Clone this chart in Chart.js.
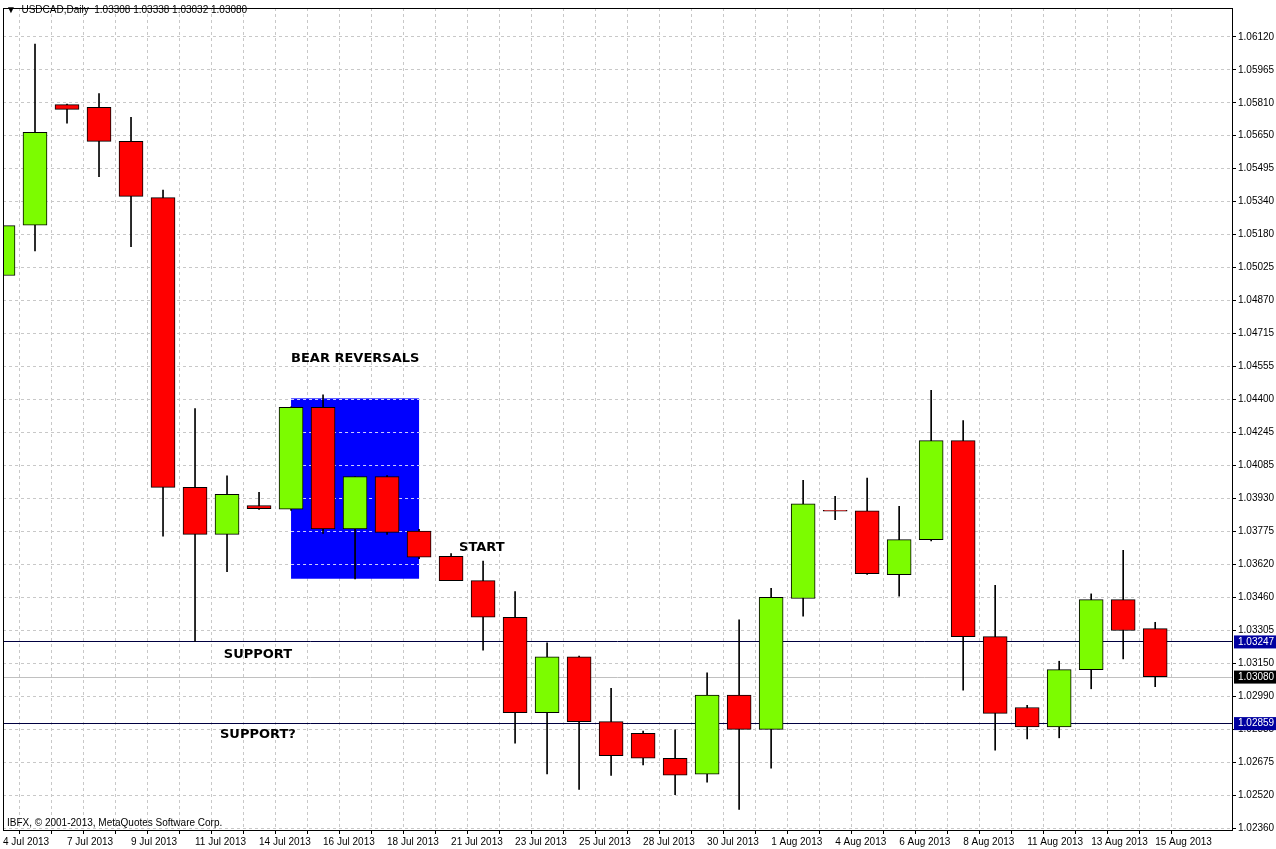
<!DOCTYPE html>
<html><head><meta charset="utf-8">
<script src="https://cdn.jsdelivr.net/npm/chart.js@4.4.0/dist/chart.umd.min.js"></script>
<style>html,body{margin:0;padding:0;background:#fff}#wrap{width:1276px;height:849px}</style>
</head><body><div id="wrap"><canvas id="c"></canvas></div>
<script>
const dates = ["4 Jul 2013","5 Jul","7 Jul 2013","8 Jul","9 Jul 2013","10 Jul","11 Jul 2013","12 Jul","14 Jul 2013","15 Jul","16 Jul 2013","17 Jul","18 Jul 2013","19 Jul","21 Jul 2013","22 Jul","23 Jul 2013","24 Jul","25 Jul 2013","26 Jul","28 Jul 2013","29 Jul","30 Jul 2013","31 Jul","1 Aug 2013","2 Aug","4 Aug 2013","5 Aug","6 Aug 2013","7 Aug","8 Aug 2013","9 Aug","11 Aug 2013","12 Aug","13 Aug 2013","14 Aug","15 Aug 2013"];
const opens  = [1.04986,1.05225,1.05798,1.05785,1.05623,1.05356,1.03979,1.03756,1.03893,1.03876,1.04359,1.03782,1.04030,1.03771,1.03652,1.03536,1.03362,1.02909,1.03174,1.02866,1.02810,1.02692,1.02616,1.02992,1.02829,1.03451,1.03870,1.03868,1.03564,1.03731,1.04201,1.03270,1.02933,1.02841,1.03113,1.03446,1.03308];
const highs  = [1.05565,1.06085,1.05800,1.05850,1.05738,1.05392,1.04353,1.04034,1.03955,1.04362,1.04419,1.04030,1.04035,1.03780,1.03665,1.03629,1.03484,1.03240,1.03177,1.03024,1.02821,1.02827,1.03098,1.03350,1.03499,1.04012,1.03936,1.04023,1.03889,1.04440,1.04297,1.03514,1.02944,1.03153,1.03473,1.03680,1.03338];
const lows   = [1.04710,1.05103,1.05710,1.05456,1.05123,1.03747,1.03247,1.03579,1.03874,1.03870,1.03760,1.03544,1.03755,1.03640,1.03536,1.03205,1.02764,1.02618,1.02544,1.02610,1.02660,1.02519,1.02578,1.02449,1.02645,1.03367,1.03826,1.03565,1.03462,1.03725,1.03015,1.02730,1.02784,1.02789,1.03022,1.03164,1.03032];
const closes = [1.05223,1.05666,1.05775,1.05623,1.05362,1.03979,1.03756,1.03946,1.03878,1.04359,1.03782,1.04030,1.03765,1.03647,1.03536,1.03362,1.02909,1.03174,1.02866,1.02704,1.02692,1.02611,1.02992,1.02829,1.03457,1.03901,1.03866,1.03569,1.03731,1.04201,1.03270,1.02905,1.02841,1.03113,1.03446,1.03299,1.03080];
const yTickLabels = ["1.02360","1.02520","1.02675","1.02835","1.02990","1.03150","1.03305","1.03460","1.03620","1.03775","1.03930","1.04085","1.04245","1.04400","1.04555","1.04715","1.04870","1.05025","1.05180","1.05340","1.05495","1.05650","1.05810","1.05965","1.06120"];
const supportLevels = [1.03247,1.02859];
const bidPrice = 1.03080;
const boxRange = {x0:9, x1:13, y0:1.03545, y1:1.04402};
const notes = [
  {text:"BEAR REVERSALS", x:9, y:1.04590},
  {text:"START", x:14.25, y:1.03691},
  {text:"SUPPORT", x:6.9, y:1.03184},
  {text:"SUPPORT?", x:6.78, y:1.02805}
];
const yMin = 1.02351, yMax = 1.06257, tMin = 1.0236, tMax = 1.0612;
const FONT = '"Liberation Sans", Arial, sans-serif';

const bodies = opens.map((o,i)=>({x:i, y:[Math.min(o,closes[i]), Math.max(o,closes[i])]}));
const wicks = highs.map((h,i)=>({x:i, y:[lows[i], h]}));
const colors = opens.map((o,i)=> closes[i] >= o ? '#7cfc00' : '#ff0000');

const deco = {
  id:'deco',
  beforeDatasetsDraw(chart){
    const {ctx, scales:{x,y}, chartArea:a} = chart;
    ctx.save();
    ctx.fillStyle = '#0000ff';
    const X0=x.getPixelForValue(boxRange.x0), X1=x.getPixelForValue(boxRange.x1);
    const Y0=y.getPixelForValue(boxRange.y1), Y1=y.getPixelForValue(boxRange.y0);
    ctx.fillRect(X0,Y0,X1-X0,Y1-Y0);
    ctx.strokeStyle='rgba(255,255,255,0.8)'; ctx.setLineDash([3,3]); ctx.lineWidth=1;
    y.ticks.forEach(t=>{const py=Math.round(y.getPixelForValue(t.value))+0.5; if(py>Y0&&py<Y1){ctx.beginPath();ctx.moveTo(X0,py);ctx.lineTo(X1,py);ctx.stroke();}});
    ctx.setLineDash([]);
    ctx.strokeStyle='#c0c0c0';
    let py=Math.round(y.getPixelForValue(bidPrice))+0.5;
    ctx.beginPath();ctx.moveTo(a.left,py);ctx.lineTo(a.right,py);ctx.stroke();
    ctx.strokeStyle='#000040';
    supportLevels.forEach(v=>{const p=Math.round(y.getPixelForValue(v))+0.5;ctx.beginPath();ctx.moveTo(a.left,p);ctx.lineTo(a.right,p);ctx.stroke();});
    ctx.restore();
  },
  afterDraw(chart){
    const {ctx, scales:{x,y}, chartArea:a} = chart;
    ctx.save();
    ctx.strokeStyle='#000'; ctx.lineWidth=1;
    ctx.strokeRect(a.left+0.5,a.top+0.5,a.right-a.left,a.bottom-a.top);
    ctx.fillStyle='#000';
    ctx.font='bold 13px "DejaVu Sans", sans-serif';
    ctx.textBaseline='middle'; ctx.textAlign='left';
    notes.forEach(n=>ctx.fillText(n.text, x.getPixelForValue(n.x), y.getPixelForValue(n.y)));
    ctx.font='10px '+FONT;
    ctx.fillText('\u25BC  USDCAD,Daily  1.03308 1.03338 1.03032 1.03080', 6, 10);
    ctx.fillText('IBFX, \u00A9 2001-2013, MetaQuotes Software Corp.', 7, 823);
    const tag=(v,bg)=>{const p=y.getPixelForValue(v);ctx.fillStyle=bg;ctx.fillRect(a.right+2,p-6,42,13);ctx.fillStyle='#fff';ctx.fillText(v.toFixed(5),a.right+6,p+0.5);};
    tag(supportLevels[0],'#0000a0'); tag(supportLevels[1],'#0000a0'); tag(bidPrice,'#000');
    ctx.restore();
  }
};

new Chart(document.getElementById('c'), {
  type:'bar',
  data:{datasets:[
    {data:wicks, backgroundColor:'#000', barThickness:1, grouped:false, order:2},
    {data:bodies, backgroundColor:colors, borderColor:'#000', borderWidth:1, borderSkipped:false, barThickness:24, grouped:false, order:1}
  ]},
  options:{
    responsive:true, maintainAspectRatio:false, animation:false,
    layout:{padding:{left:3,top:0,right:0,bottom:0}},
    plugins:{legend:{display:false}, tooltip:{enabled:false}},
    scales:{
      x:{type:'linear', min:0, max:38.4, offset:false,
        afterBuildTicks(s){ s.ticks = dates.map((d,i)=>({value:i})); },
        grid:{color:'#c8c8c8', tickLength:4, drawTicks:true, tickColor:'#000', lineWidth:1},
        border:{dash:[3,3], display:false},
        ticks:{autoSkip:false, maxRotation:0, align:'start', padding:2, color:'#000', font:{size:10, family:FONT},
          callback:(v,i)=> i%2===0 ? dates[i] : ''},
        afterFit(s){ s.height = 19; }
      },
      y:{type:'linear', position:'right', min:yMin, max:yMax,
        afterBuildTicks(s){ s.ticks = yTickLabels.map((l,i)=>({value: tMin + i*(tMax-tMin)/(yTickLabels.length-1)})); },
        grid:{color:'#c8c8c8', tickLength:4, tickColor:'#000'},
        border:{dash:[3,3], display:false},
        ticks:{color:'#000', padding:2, font:{size:10, family:FONT}, callback:(v,i)=>yTickLabels[i]},
        afterFit(s){ s.width = 44; }
      }
    }
  },
  plugins:[deco]
});
</script></body></html>
